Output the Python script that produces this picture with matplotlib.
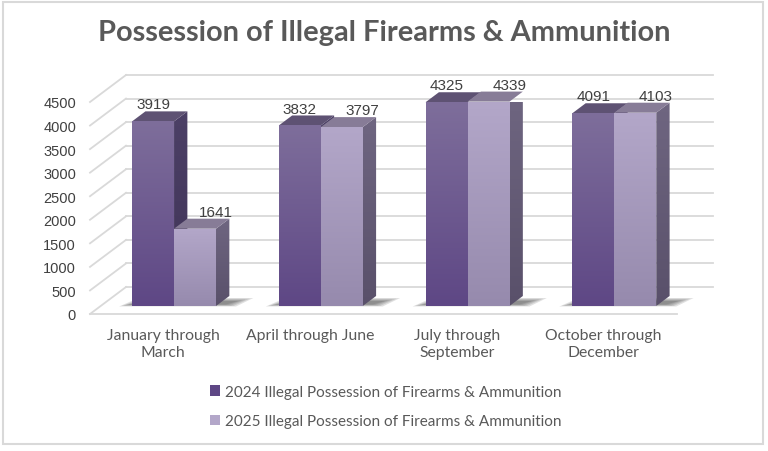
import numpy as np
import matplotlib
matplotlib.use("Agg")
import matplotlib.pyplot as plt
from matplotlib.patches import Polygon, Rectangle, Patch
from matplotlib.lines import Line2D
from matplotlib.colors import LinearSegmentedColormap

# ---------------- data ----------------
categories = ["January through\nMarch", "April through June",
              "July through\nSeptember", "October through\nDecember"]
series_2024 = [3919, 3832, 4325, 4091]
series_2025 = [1641, 3797, 4339, 4103]
series_names = ["2024 Illegal Possession of Firearms & Ammunition",
                "2025 Illegal Possession of Firearms & Ammunition"]
y_ticks = [0, 500, 1000, 1500, 2000, 2500, 3000, 3500, 4000, 4500]
title = "Possession of Illegal Firearms & Ammunition"

# ---------------- styles ----------------
W, H = 768, 452
GRID = "#d9d9d9"
TXT = "#595959"
NUM = "#404040"
front_cols = [("#7e6e9b", "#5e4785"), ("#b3a7c9", "#968aad")]  # (top, bottom)
side_cols = [("#4c4066", "#3f3357"), ("#6f6681", "#59506a")]
top_cols = ["#5e5273", "#877c97"]
BAR_W = 0.286
D_FRONT, D_BACK, D_WALL = 8, 18, 27
KX = 36 / 27

fig = plt.figure(figsize=(W / 100, H / 100), dpi=100)
fig.patch.set_facecolor("white")
ax = fig.add_axes([90 / W, 137 / H, 587 / W, 212 / H])
ax.set_xlim(-0.5, 3.5)
ax.set_ylim(0, 4500)
ax.set_autoscale_on(False)
for s in ax.spines.values():
    s.set_visible(False)
ax.patch.set_visible(False)


def off(x, y, d):
    """Shift a data point by a depth d (pixels) in the oblique view."""
    p = ax.transData.transform((x, y)) + np.array([d * KX, d])
    return ax.transData.inverted().transform(p)


def line(p0, p1, **kw):
    ax.add_line(Line2D([p0[0], p1[0]], [p0[1], p1[1]], clip_on=False, **kw))


def grad_face(verts, c_top, c_bot, z):
    verts = np.asarray(verts)
    poly = Polygon(verts, closed=True, facecolor="none", edgecolor="none",
                   zorder=z, clip_on=False)
    ax.add_patch(poly)
    cmap = LinearSegmentedColormap.from_list("g", [c_bot, c_top])
    grad = np.linspace(0, 1, 256).reshape(-1, 1)
    im = ax.imshow(grad, cmap=cmap, origin="lower", aspect="auto",
                   extent=[verts[:, 0].min(), verts[:, 0].max(),
                           verts[:, 1].min(), verts[:, 1].max()],
                   zorder=z, interpolation="bilinear")
    im.set_clip_path(poly)
    im.set_clip_on(True)


# ---------------- walls / grid ----------------
for v in y_ticks:
    line(off(-0.5, v, D_WALL), off(3.5, v, D_WALL), color=GRID, lw=1.3, zorder=1)
    line(off(-0.5, v, 0), off(-0.5, v, D_WALL), color=GRID, lw=1.3, zorder=1)
line(off(-0.5, 0, 0), off(3.5, 0, 0), color=GRID, lw=1.3, zorder=1)

# ---------------- bars ----------------
xs = np.arange(len(categories))
z = 3
for i, x in enumerate(xs):
    # soft floor shadow
    gl, gr = x - BAR_W, x + BAR_W
    for k in range(5):
        shrink = k * 2.5
        pts = [off(gl, 0, D_FRONT - 1.5), off(gr, 0, D_FRONT - 1.5),
               off(gr, 0, D_BACK), off(gl, 0, D_BACK)]
        pts = [ax.transData.transform(p) for p in pts]
        pts[0] = pts[0] + np.array([-11 + shrink, 1 + shrink * 0.2])
        pts[1] = pts[1] + np.array([22 - shrink, 1 + shrink * 0.2])
        pts[2] = pts[2] + np.array([24 - shrink * 1.5, -2 - shrink * 0.3])
        pts[3] = pts[3] + np.array([-7 + shrink, -2 - shrink * 0.3])
        pts = [ax.transData.inverted().transform(p) for p in pts]
        ax.add_patch(Polygon(pts, closed=True, facecolor="#2e2e2e", edgecolor="none",
                             alpha=0.14, zorder=2, clip_on=False))
    for s, vals in enumerate([series_2024, series_2025]):
        v = vals[i]
        x0 = x - BAR_W + s * BAR_W
        x1 = x0 + BAR_W
        # side face
        side = [off(x1, 0, D_FRONT), off(x1, 0, D_BACK), off(x1, v, D_BACK), off(x1, v, D_FRONT)]
        grad_face(side, side_cols[s][0], side_cols[s][1], z)
        # top face
        top = [off(x0, v, D_FRONT), off(x1, v, D_FRONT), off(x1, v, D_BACK), off(x0, v, D_BACK)]
        ax.add_patch(Polygon(top, closed=True, facecolor=top_cols[s], edgecolor="none",
                             zorder=z + 0.1, clip_on=False))
        # front face
        front = [off(x0, 0, D_FRONT), off(x1, 0, D_FRONT), off(x1, v, D_FRONT), off(x0, v, D_FRONT)]
        grad_face(front, front_cols[s][0], front_cols[s][1], z + 0.2)
        z += 1
        # data label
        cx = (x0 + x1) / 2
        lx, ly = off(cx, v, D_FRONT)
        ax.annotate(f"{v}", (lx, ly), xytext=(0 if s == 0 else 15, 12.2),
                    textcoords="offset points", ha="center", va="center",
                    fontsize=11, color=NUM, family="Liberation Sans",
                    zorder=50, annotation_clip=False)

# ---------------- axes text ----------------
ax.set_yticks(y_ticks)
ax.set_yticklabels([str(t) for t in y_ticks], fontsize=10.5, color=NUM,
                   family="Liberation Sans")
ax.tick_params(axis="y", length=0, pad=10)
ax.set_xticks(xs)
ax.set_xticklabels(categories, fontsize=11.3, color=TXT, family="Lato",
                   linespacing=1.3)
ax.tick_params(axis="x", length=0, pad=10)

fig.text(0.5, 1 - 32.5 / H, title, ha="center", va="center", fontsize=20.9,
         fontweight="bold", color=TXT, family="Lato")

handles = [Patch(facecolor=front_cols[0][1], edgecolor="none"),
           Patch(facecolor=front_cols[1][0], edgecolor="none")]
fig.legend(handles, series_names, loc="center", bbox_to_anchor=(386 / W, 1 - 407.5 / H),
           ncol=1, frameon=False, handlelength=0.65, handleheight=0.65,
           handletextpad=0.3, labelspacing=1.0, prop={"family": "Lato", "size": 11},
           labelcolor=TXT)

# figure border
fig.add_artist(Rectangle((3 / W, 1 - 445 / H), 760 / W, 442 / H, transform=fig.transFigure,
                         facecolor="none", edgecolor=GRID, lw=1.5))

fig.savefig("out.png", dpi=100)
